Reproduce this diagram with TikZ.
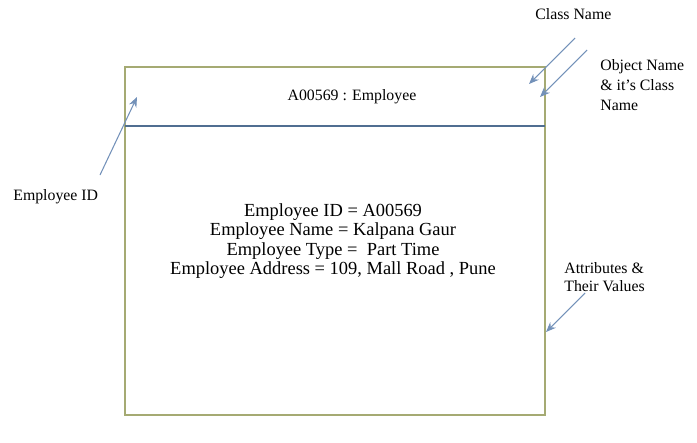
\documentclass[tikz,border=0pt]{standalone}
\usepackage{fontspec}
\setmainfont{Liberation Serif}
\usetikzlibrary{arrows.meta, positioning}
\definecolor{boxline}{RGB}{165,170,115}
\definecolor{splitline}{RGB}{80,110,145}
\definecolor{pointer}{RGB}{115,145,185}

\begin{document}
\begin{tikzpicture}[
    x=0.02cm, y=-0.02cm,
    objbox/.style={draw=boxline, line width=0.6pt},
    divider/.style={draw=splitline, line width=0.7pt},
    note/.style={font=\fontsize{9}{11.3}\selectfont, align=left, inner sep=0pt},
    arrow/.style={-{Stealth[length=2mm, width=1.6mm]}, draw=pointer, line width=0.6pt},
  ]
  \useasboundingbox (0,0) rectangle (697,443);

  % object box
  \draw[objbox] (125,67) rectangle (545,415);
  \draw[divider] (125,126) -- (545,126);

  \node (header) at (352,97) {\fontsize{9}{10}\selectfont A00569 : Employee};
  \node[align=center, font=\fontsize{10.5}{11}\selectfont] (attrs) at (333,241)
    {Employee ID = A00569\\Employee Name = Kalpana Gaur\\Employee Type = \ Part Time\\Employee Address = 109, Mall Road , Pune};

  % labels
  \node[note, anchor=west] (classname) at (535,14) {Class Name};
  \node[note, anchor=north west] (objname) at (600,59) {Object Name\\\& it’s Class\\Name};
  \node[note, anchor=west] (empid) at (13,197) {Employee ID};
  \node[note, anchor=north west, font=\fontsize{9}{10.2}\selectfont] (attrlabel) at (564,262) {Attributes \&\\Their Values};

  % arrow ends
  \coordinate (cn-from) at (575,38);
  \coordinate (cn-to) at (529,84);
  \coordinate (on-from) at (587,50);
  \coordinate (on-to) at (540,97);
  \coordinate (id-from) at (100,175);
  \coordinate (id-to) at (137,97);
  \coordinate (av-from) at (585,293);
  \coordinate (av-to) at (546,332);

  \draw[arrow] (cn-from) -- (cn-to);
  \draw[arrow] (on-from) -- (on-to);
  \draw[arrow] (id-from) -- (id-to);
  \draw[arrow] (av-from) -- (av-to);
\end{tikzpicture}
\end{document}
